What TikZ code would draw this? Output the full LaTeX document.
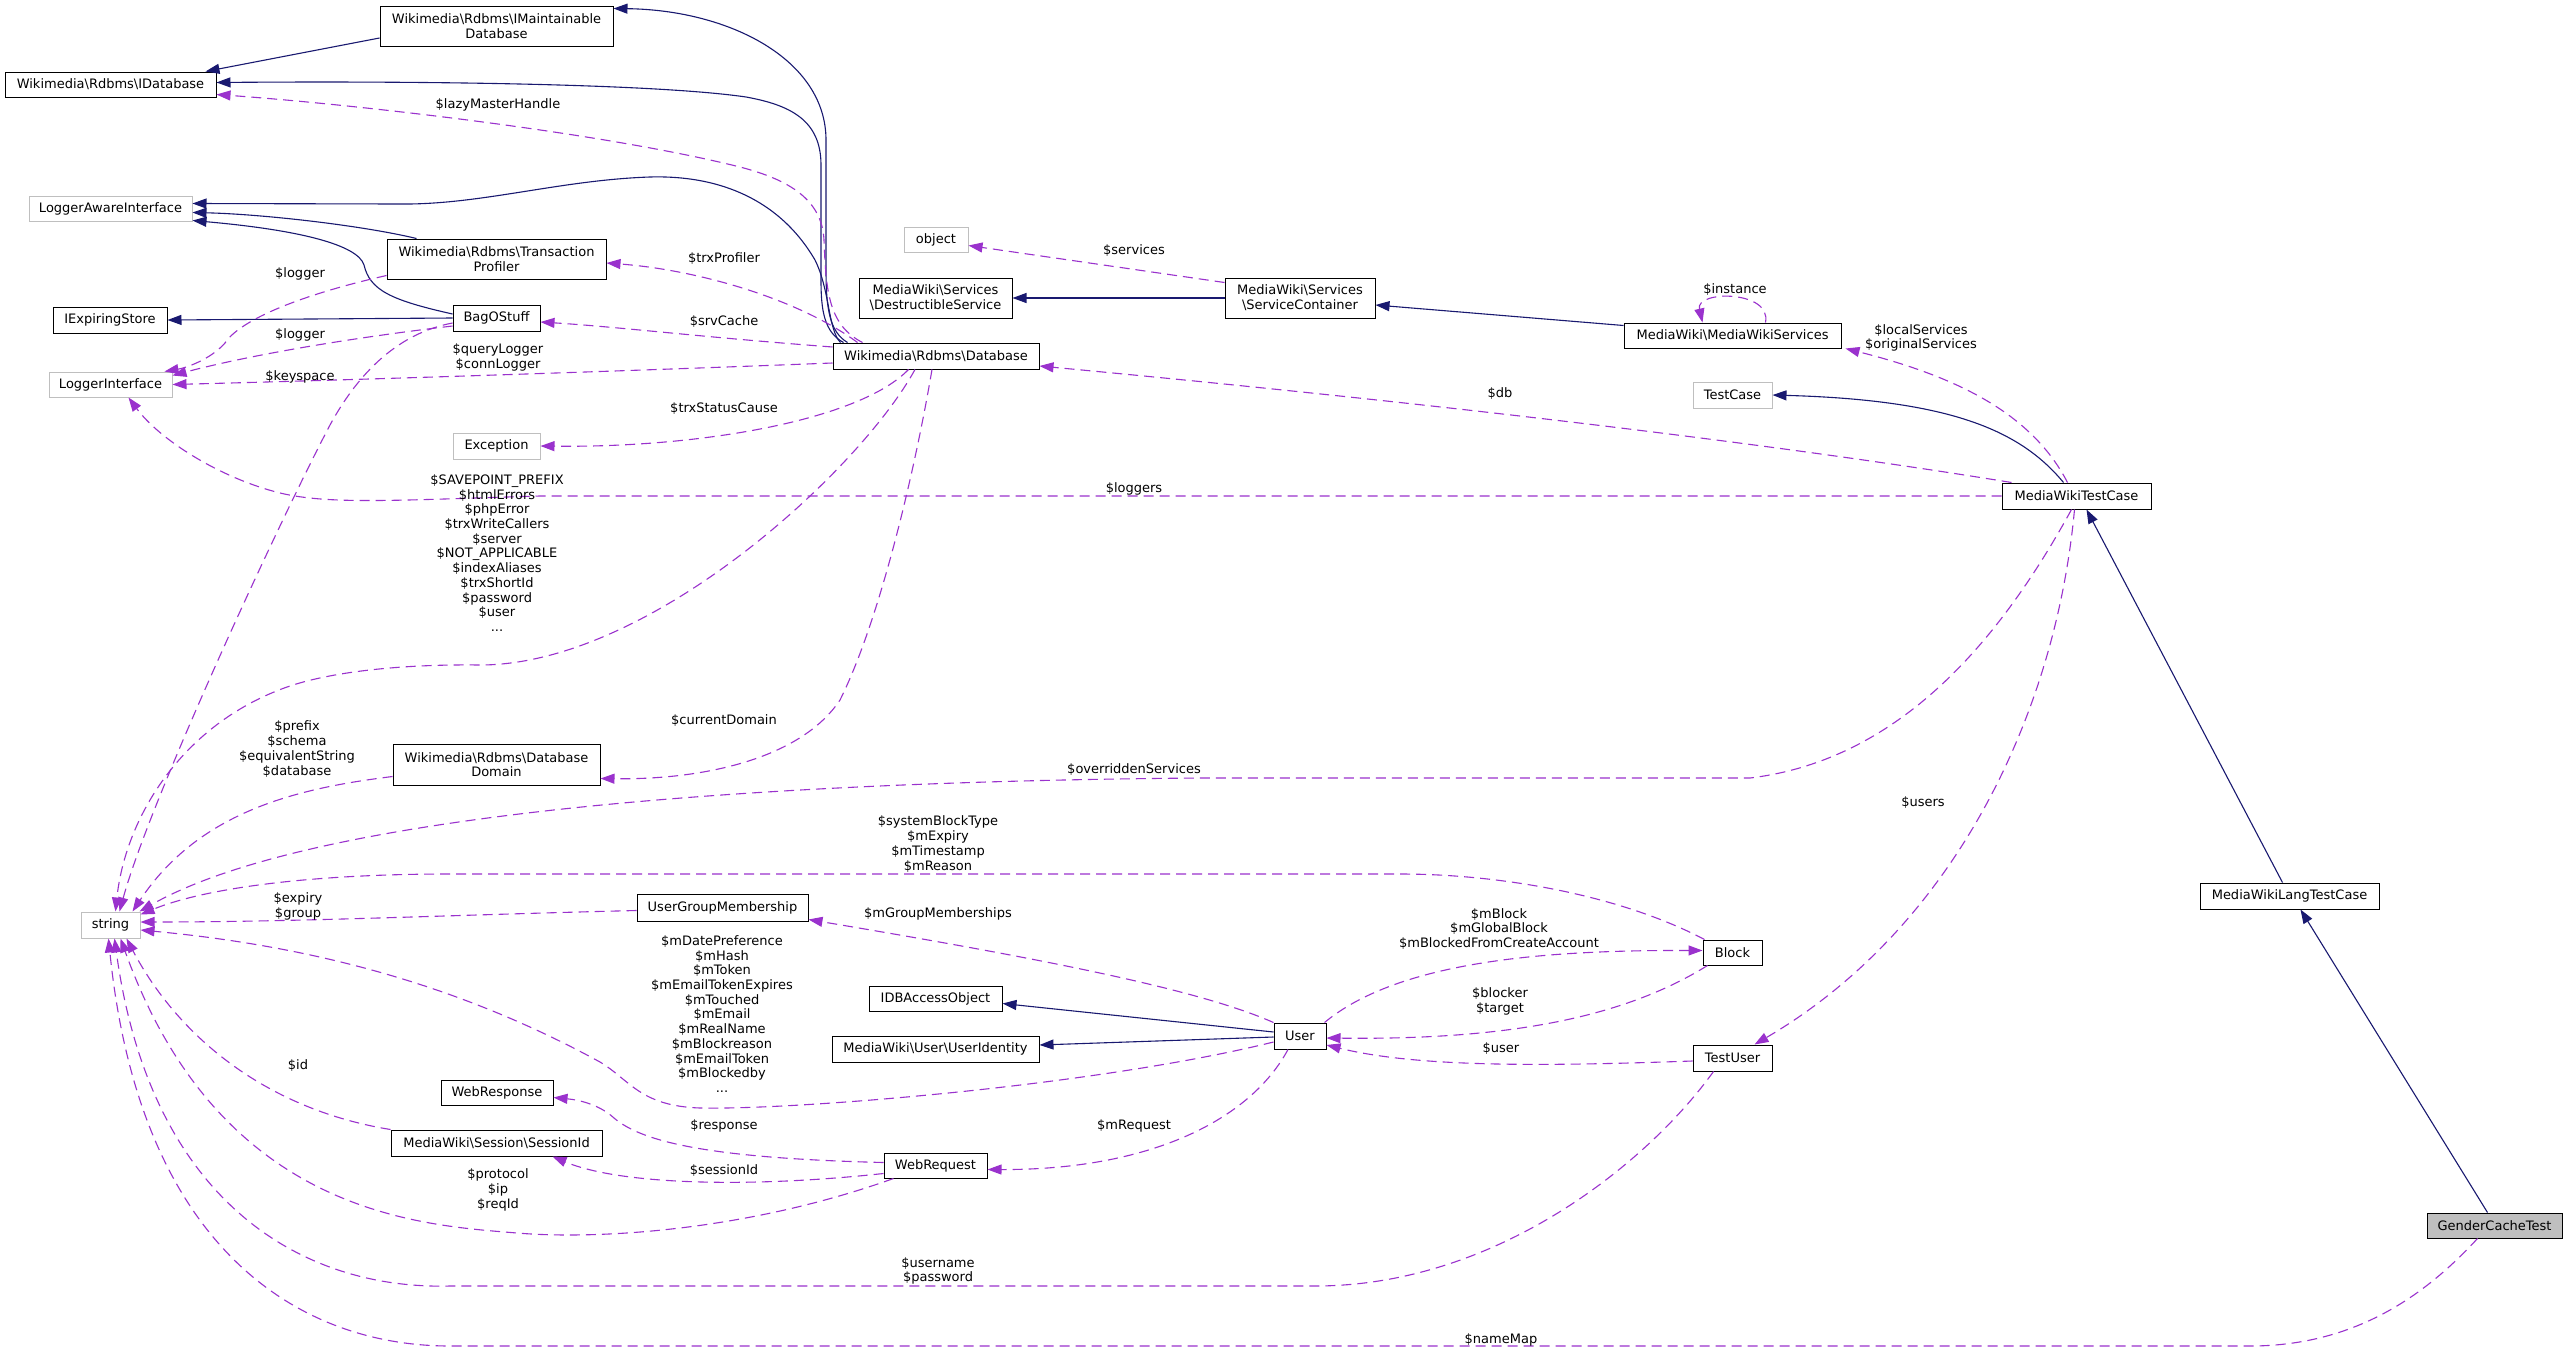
\documentclass[tikz,border=0pt]{standalone}
\usepackage{fontspec}
\setmainfont{DejaVu Sans}
\usetikzlibrary{arrows.meta,calc}
\definecolor{navy}{HTML}{191970}
\definecolor{purp}{HTML}{9A32CD}
\definecolor{boxgray}{HTML}{BFBFBF}
\newcommand{\nf}{\fontsize{13}{14.7}\selectfont}
\newcommand{\bsl}{\textbackslash}
\begin{document}
\begin{tikzpicture}[x=1pt,y=-1pt,
 box/.style={draw=black, line width=1pt, fill=white, inner sep=0pt, align=center, font=\nf},
 gbox/.style={box, draw=boxgray},
 inh/.style={draw=navy, line width=1.1pt, -{Triangle[length=14pt,width=10pt]}},
 use/.style={draw=purp, line width=1.1pt, dash pattern=on 10pt off 6pt, -{Triangle[length=14pt,width=10pt]}},
 lbl/.style={font=\nf, align=center, inner sep=0pt}]
\fill[white] (0,0) rectangle (2568,1352);
\useasboundingbox (0,0) rectangle (2568,1352);

% nodes
\node[box, minimum width=233pt, minimum height=40pt] (imaint) at (496.5,26) {Wikimedia\bsl Rdbms\bsl IMaintainable\\Database};
\node[box, minimum width=211pt, minimum height=25pt] (idb) at (110.5,84.5) {Wikimedia\bsl Rdbms\bsl IDatabase};
\node[gbox, minimum width=163pt, minimum height=25pt] (lai) at (110.5,208.5) {LoggerAwareInterface};
\node[box, minimum width=219pt, minimum height=40pt] (tp) at (496.5,259) {Wikimedia\bsl Rdbms\bsl Transaction\\Profiler};
\node[box, minimum width=114pt, minimum height=26pt] (ies) at (110,320) {IExpiringStore};
\node[box, minimum width=87pt, minimum height=26pt] (bag) at (496.5,318) {BagOStuff};
\node[gbox, minimum width=123pt, minimum height=25pt] (li) at (110.5,384.5) {LoggerInterface};
\node[gbox, minimum width=87pt, minimum height=26pt] (exc) at (496.5,446) {Exception};
\node[box, minimum width=206pt, minimum height=26pt] (db) at (936,356) {Wikimedia\bsl Rdbms\bsl Database};
\node[gbox, minimum width=64pt, minimum height=25pt] (obj) at (936,239.5) {object};
\node[box, minimum width=153pt, minimum height=40pt] (ds) at (935.5,298) {MediaWiki\bsl Services\\\bsl DestructibleService};
\node[box, minimum width=150pt, minimum height=40pt] (sc) at (1300,298) {MediaWiki\bsl Services\\\bsl ServiceContainer};
\node[box, minimum width=217pt, minimum height=25pt] (mws) at (1732.5,335.5) {MediaWiki\bsl MediaWikiServices};
\node[gbox, minimum width=79pt, minimum height=26pt] (tc) at (1732.5,395) {TestCase};
\node[box, minimum width=149pt, minimum height=26pt] (mwtc) at (2076.5,496) {MediaWikiTestCase};
\node[box, minimum width=207pt, minimum height=41pt] (dd) at (496.5,764.5) {Wikimedia\bsl Rdbms\bsl Database\\Domain};
\node[gbox, minimum width=59pt, minimum height=26pt] (str) at (110.5,925) {string};
\node[box, minimum width=171pt, minimum height=27pt] (ugm) at (722.5,907.5) {UserGroupMembership};
\node[box, minimum width=133pt, minimum height=25pt] (idba) at (935.5,998.5) {IDBAccessObject};
\node[box, minimum width=207pt, minimum height=26pt] (ui) at (935.5,1049) {MediaWiki\bsl User\bsl UserIdentity};
\node[box, minimum width=52pt, minimum height=26pt] (user) at (1300,1036) {User};
\node[box, minimum width=59pt, minimum height=25pt] (block) at (1732.5,952.5) {Block};
\node[box, minimum width=79pt, minimum height=26pt] (tu) at (1732.5,1058) {TestUser};
\node[box, minimum width=112pt, minimum height=25pt] (wresp) at (497,1092.5) {WebResponse};
\node[box, minimum width=211pt, minimum height=26pt] (sid) at (496.5,1143) {MediaWiki\bsl Session\bsl SessionId};
\node[box, minimum width=103pt, minimum height=25pt] (wreq) at (935.5,1165.5) {WebRequest};
\node[box, minimum width=179pt, minimum height=26pt] (mwltc) at (2289.5,896) {MediaWikiLangTestCase};
\node[box, fill=boxgray, minimum width=135pt, minimum height=25pt] (gct) at (2494.5,1225.5) {GenderCacheTest};

% inheritance
\draw[inh] ($(imaint.west)+(0,12)$) -- ($(idb.north east)+(-11,0)$);
\draw[inh] ($(db.north west)+(15,0)$) .. controls (830,332) and (826,310) .. (826,270) -- (826,140) .. controls (826,60) and (730,10) .. ($(imaint.north east)+(0,3)$);
\draw[inh] ($(db.north west)+(11,0)$) .. controls (824,332) and (821,310) .. (821,280) -- (821,165) .. controls (821,120) and (790,105) .. (746,97) .. controls (650,83) and (400,81) .. ($(idb.east)+(0,-2)$);
\draw[inh] ($(db.north west)+(8,0)$) .. controls (828,330) and (830,290) .. (815,260) .. controls (780,200) and (720,175) .. (650,177) .. controls (560,180) and (480,205) .. (400,204) -- ($(lai.east)+(0,-5)$);
\draw[inh] ($(tp.north west)+(30,0)$) .. controls (360,225) and (260,214) .. ($(lai.east)+(0,4)$);
\draw[inh] ($(bag.west)+(0,-4)$) .. controls (390,300) and (370,290) .. (364,265) .. controls (358,245) and (300,230) .. ($(lai.south east)+(0,-1)$);
\draw[inh] (bag.west) -- (ies.east);
\draw[inh] (sc.west) -- (ds.east);
\draw[inh] ($(mws.west)+(0,-10)$) -- ($(sc.east)+(0,7)$);
\draw[inh] ($(mwtc.north)+(-13,0)$) .. controls (2020,430) and (1950,400) .. (tc.east);
\draw[inh] ($(mwltc.north)+(-7,0)$) -- ($(mwtc.south)+(10,0)$);
\draw[inh] ($(gct.north)+(-7,0)$) -- ($(mwltc.south)+(11,0)$);
\draw[inh] ($(user.west)+(0,-4)$) -- ($(idba.east)+(0,5)$);
\draw[inh] ($(user.west)+(0,1)$) -- ($(ui.east)+(0,-4)$);

% usage
\draw[use] ($(db.north west)+(30,0)$) .. controls (828,325) and (826,290) .. (824,240) .. controls (822,200) and (790,180) .. (740,167) .. controls (600,132) and (350,104) .. ($(idb.south east)+(0,-3)$);
\draw[use] ($(db.north west)+(25,0)$) .. controls (800,300) and (700,270) .. ($(tp.east)+(0,4)$);
\draw[use] ($(db.west)+(0,-9)$) .. controls (700,337) and (620,327) .. ($(bag.east)+(0,4)$);
\draw[use] ($(db.west)+(0,7)$) .. controls (600,372) and (350,380) .. (li.east);
\draw[use] ($(tp.south west)+(0,-4)$) .. controls (300,295) and (240,320) .. (225,343) .. controls (210,360) and (185,368) .. ($(li.north east)+(-8,0)$);
\draw[use] ($(bag.west)+(0,8)$) .. controls (350,338) and (250,355) .. ($(li.north east)+(0,4)$);
\draw[use] ($(bag.west)+(0,5)$) .. controls (400,333) and (360,370) .. (330,425) .. controls (280,520) and (150,800) .. ($(str.north)+(9,0)$);
\draw[use] ($(db.south)+(-21,0)$) .. controls (860,470) and (650,665) .. (480,665) .. controls (400,664) and (330,672) .. (287,687) .. controls (180,725) and (125,820) .. ($(str.north)+(5,0)$);
\draw[use] ($(db.south)+(-4,0)$) .. controls (915,470) and (880,620) .. (840,700) .. controls (800,760) and (700,780) .. ($(dd.east)+(0,14)$);
\draw[use] ($(db.south west)+(76,0)$) .. controls (860,420) and (700,448) .. (exc.east);
\draw[use] (mwtc.west) -- (540,496) .. controls (400,500) and (330,505) .. (280,493) .. controls (220,478) and (160,440) .. ($(li.south)+(18,0)$);
\draw[use] ($(dd.west)+(0,12)$) .. controls (300,788) and (200,810) .. ($(str.north east)+(-8,0)$);
\draw[use] ($(mwtc.south)+(-5,0)$) .. controls (2000,640) and (1900,760) .. (1750,778) -- (1200,778) .. controls (700,782) and (300,820) .. ($(str.north east)+(-1,0)$);
\draw[use] ($(block.north west)+(2,0)$) .. controls (1620,895) and (1500,874) .. (1400,874) -- (450,874) .. controls (300,874) and (200,890) .. ($(str.north east)+(0,3)$);
\draw[use] ($(ugm.west)+(0,3)$) .. controls (450,915) and (300,922) .. ($(str.east)+(0,-3)$);
\draw[use] (user.north west) .. controls (1200,990) and (1050,960) .. ($(ugm.south east)+(0,-2)$);
\draw[use] ($(user.west)+(0,6)$) .. controls (1100,1085) and (800,1110) .. (700,1108) .. controls (640,1106) and (630,1080) .. (600,1062) .. controls (450,980) and (300,945) .. ($(str.east)+(0,5)$);
\draw[use] ($(user.north east)+(-2,0)$) .. controls (1400,960) and (1550,950) .. ($(block.west)+(0,-2)$);
\draw[use] ($(block.south west)+(5,0)$) .. controls (1620,1020) and (1500,1040) .. ($(user.east)+(0,2)$);
\draw[use] ($(tu.west)+(0,3)$) .. controls (1550,1066) and (1420,1068) .. ($(user.east)+(0,9)$);
\draw[use] ($(user.south)+(-12,0)$) .. controls (1250,1120) and (1150,1170) .. ($(wreq.east)+(0,4)$);
\draw[use] ($(wreq.west)+(0,-3)$) .. controls (700,1158) and (640,1140) .. (614,1118) .. controls (600,1105) and (580,1100) .. ($(wresp.east)+(0,5)$);
\draw[use] ($(wreq.west)+(0,8)$) .. controls (750,1188) and (620,1185) .. ($(sid.south east)+(-50,0)$);
\draw[use] (sid.north west) .. controls (270,1110) and (180,1040) .. ($(str.south)+(16,0)$);
\draw[use] ($(wreq.south west)+(10,0)$) .. controls (750,1230) and (600,1240) .. (517,1233) .. controls (420,1225) and (220,1215) .. ($(str.south)+(10,0)$);
\draw[use] ($(tu.south west)+(21,0)$) .. controls (1650,1160) and (1500,1285) .. (1317,1286) -- (450,1286) .. controls (300,1290) and (150,1200) .. ($(str.south)+(4,0)$);
\draw[use] ($(gct.south west)+(51,0)$) .. controls (2430,1290) and (2360,1346) .. (2250,1346) -- (450,1346) .. controls (300,1346) and (140,1250) .. ($(str.south)+(-2,0)$);
\draw[use] ($(mwtc.north)+(-9,0)$) .. controls (2030,410) and (1950,375) .. ($(mws.south east)+(4,0)$);
\draw[use] ($(mwtc.north west)+(10,0)$) .. controls (1750,440) and (1400,400) .. ($(db.east)+(0,10)$);
\draw[use] ($(mwtc.south)+(-2,0)$) .. controls (2055,720) and (1950,930) .. ($(tu.north)+(22,0)$);
\draw[use] ($(sc.north west)+(0,5)$) -- ($(obj.east)+(0,6)$);
\draw[use] ($(mws.north)+(33,0)$) .. controls (1772,290) and (1695,290) .. ($(mws.north)+(-30,0)$);

% labels
\node[lbl] (l1) at (498,105) {\$lazyMasterHandle};
\node[lbl] (l2) at (724,259) {\$trxProfiler};
\node[lbl] (l3) at (300,274) {\$logger};
\node[lbl] (l4) at (724,322) {\$srvCache};
\node[lbl] (l5) at (300,335) {\$logger};
\node[lbl] (l6) at (498,357.5) {\$queryLogger\\\$connLogger};
\node[lbl] (l7) at (300,377) {\$keyspace};
\node[lbl] (l8) at (724,409) {\$trxStatusCause};
\node[lbl] (l9) at (497,553) {\$SAVEPOINT\_PREFIX\\\$htmlErrors\\\$phpError\\\$trxWriteCallers\\\$server\\\$NOT\_APPLICABLE\\\$indexAliases\\\$trxShortId\\\$password\\\$user\\...};
\node[lbl] (l10) at (1134,489) {\$loggers};
\node[lbl] (l11) at (724,721) {\$currentDomain};
\node[lbl] (l12) at (297,749) {\$prefix\\\$schema\\\$equivalentString\\\$database};
\node[lbl] (l13) at (1134,770) {\$overriddenServices};
\node[lbl] (l14) at (938,844) {\$systemBlockType\\\$mExpiry\\\$mTimestamp\\\$mReason};
\node[lbl] (l15) at (298,906.5) {\$expiry\\\$group};
\node[lbl] (l16) at (938,914) {\$mGroupMemberships};
\node[lbl] (l17) at (1499,929) {\$mBlock\\\$mGlobalBlock\\\$mBlockedFromCreateAccount};
\node[lbl] (l18) at (722,1014) {\$mDatePreference\\\$mHash\\\$mToken\\\$mEmailTokenExpires\\\$mTouched\\\$mEmail\\\$mRealName\\\$mBlockreason\\\$mEmailToken\\\$mBlockedby\\...};
\node[lbl] (l19) at (1500,1001.5) {\$blocker\\\$target};
\node[lbl] (l20) at (1501,1049) {\$user};
\node[lbl] (l21) at (298,1066) {\$id};
\node[lbl] (l22) at (724,1126) {\$response};
\node[lbl] (l23) at (1134,1126) {\$mRequest};
\node[lbl] (l24) at (724,1171) {\$sessionId};
\node[lbl] (l25) at (498,1190) {\$protocol\\\$ip\\\$reqId};
\node[lbl] (l26) at (938,1271) {\$username\\\$password};
\node[lbl] (l27) at (1501,1340) {\$nameMap};
\node[lbl] (l28) at (1134,251) {\$services};
\node[lbl] (l29) at (1500,394) {\$db};
\node[lbl] (l30) at (1735,290) {\$instance};
\node[lbl] (l31) at (1921,338) {\$localServices\\\$originalServices};
\node[lbl] (l32) at (1923,803) {\$users};
\end{tikzpicture}
\end{document}
